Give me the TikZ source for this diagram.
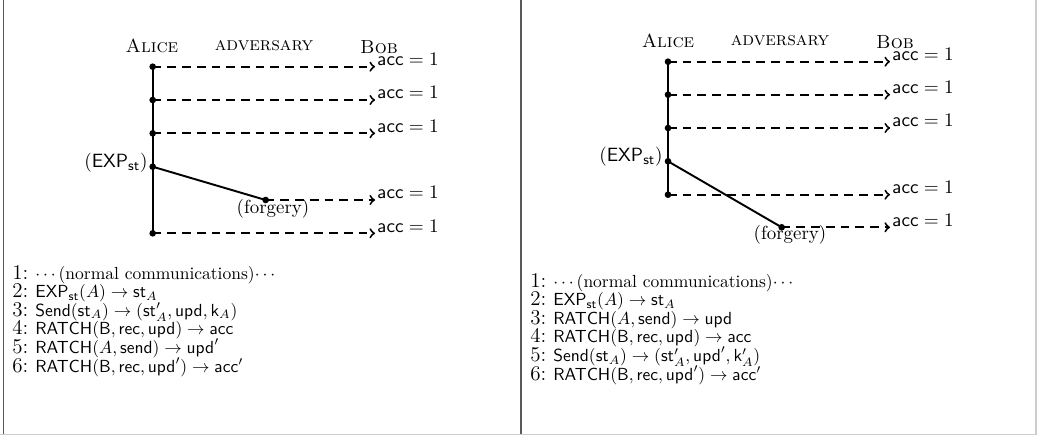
\documentclass[tikz,border=0pt]{standalone}
\usepackage{amsmath}
\begin{document}
\begin{tikzpicture}[x=0.5714pt,y=-0.5714pt,
  dot/.style={circle,fill,inner sep=0pt,minimum size=3.8pt},
  life/.style={line width=1.1pt},
  msg/.style={line width=1.1pt,dash pattern=on 5pt off 3.4pt,->},
  lab/.style={inner sep=0pt,font=\fontsize{10.8}{13}\selectfont},
  acc/.style={lab,anchor=base west},
  hdr/.style={lab,anchor=base},
  num/.style={anchor=base west,inner sep=0pt,font=\fontsize{12}{13}\selectfont},
  alg/.style={anchor=base west,inner sep=0pt},
  rule/.style={line width=1pt}]
\useasboundingbox (0,0) rectangle (1037,437);
% frame
\draw[rule,black!65] (3.5,0) -- (3.5,434);
\draw[rule,black!65] (521,0) -- (521,434);
\draw[rule,black!20] (1036,0) -- (1036,434);
\draw[rule,black!20] (0,434.5) -- (1037,434.5);

% ---------- left panel ----------
\node[hdr] (alice1) at (152,52.5) {\textsc{Alice}};
\node[hdr] (adv1) at (264,50) {\textsc{adversary}};
\node[hdr] (bob1) at (379,53) {\textsc{Bob}};
\node[dot] (a1) at (152.7,66.7) {};
\node[dot] (a2) at (152.7,100) {};
\node[dot] (a3) at (152.7,133.3) {};
\node[dot] (a4) at (152.7,166.7) {};
\node[dot] (f1) at (265.7,200) {};
\node[dot] (a6) at (152.7,233.3) {};
\coordinate (b1) at (375,66.7);
\coordinate (b2) at (375,100);
\coordinate (b3) at (375,133.3);
\coordinate (b5) at (375,200);
\coordinate (b6) at (375,233.3);
\draw[life] (a1.center) -- (a6.center);
\draw[life] (a4.center) -- (f1.center);
\draw[msg] (a1.center) -- (b1);
\draw[msg] (a2.center) -- (b2);
\draw[msg] (a3.center) -- (b3);
\draw[msg] (f1.center) -- (b5);
\draw[msg] (a6.center) -- (b6);
\node[acc] (c1) at (377,65.5) {$\mathsf{acc}=1$};
\node[acc] (c2) at (377,98.8) {$\mathsf{acc}=1$};
\node[acc] (c3) at (377,132.1) {$\mathsf{acc}=1$};
\node[acc] (c5) at (377,198.8) {$\mathsf{acc}=1$};
\node[acc] (c6) at (377,232.1) {$\mathsf{acc}=1$};
\node[lab,anchor=east] (exp1) at (148,163) {$(\mathsf{EXP}_{\mathsf{st}})$};
\node[lab,anchor=north] (forg1) at (273,199) {(forgery)};

\node[num] (n11) at (12,279) {1:};
\node[num] (n12) at (12,297.6) {2:};
\node[num] (n13) at (12,316.2) {3:};
\node[num] (n14) at (12,334.8) {4:};
\node[num] (n15) at (12,353.4) {5:};
\node[num] (n16) at (12,372) {6:};
\node[alg] (t11) at (35,279) {$\cdots$(normal communications)$\cdots$};
\node[alg] (t12) at (35,297.6) {$\mathsf{EXP}_{\mathsf{st}}(A) \rightarrow \mathsf{st}_A$};
\node[alg] (t13) at (35,316.2) {$\mathsf{Send}(\mathsf{st}_A) \rightarrow (\mathsf{st}'_A, \mathsf{upd}, \mathsf{k}_A)$};
\node[alg] (t14) at (35,334.8) {$\mathsf{RATCH}(\mathsf{B}, \mathsf{rec}, \mathsf{upd}) \rightarrow \mathsf{acc}$};
\node[alg] (t15) at (35,353.4) {$\mathsf{RATCH}(A, \mathsf{send}) \rightarrow \mathsf{upd}'$};
\node[alg] (t16) at (35,372) {$\mathsf{RATCH}(\mathsf{B}, \mathsf{rec}, \mathsf{upd}') \rightarrow \mathsf{acc}'$};

% ---------- right panel ----------
\node[hdr] (alice2) at (668,47.5) {\textsc{Alice}};
\node[hdr] (adv2) at (780,45) {\textsc{adversary}};
\node[hdr] (bob2) at (895,48) {\textsc{Bob}};
\node[dot] (d1) at (668,61.7) {};
\node[dot] (d2) at (668,94.7) {};
\node[dot] (d3) at (668,128) {};
\node[dot] (d4) at (668,161.3) {};
\node[dot] (d5) at (668,194.7) {};
\node[dot] (f2) at (781.7,227.3) {};
\coordinate (e1) at (890,61.7);
\coordinate (e2) at (890,94.7);
\coordinate (e3) at (890,128);
\coordinate (e5) at (890,194.7);
\coordinate (e6) at (890,227.3);
\draw[life] (d1.center) -- (d5.center);
\draw[life] (d4.center) -- (f2.center);
\draw[msg] (d1.center) -- (e1);
\draw[msg] (d2.center) -- (e2);
\draw[msg] (d3.center) -- (e3);
\draw[msg] (d5.center) -- (e5);
\draw[msg] (f2.center) -- (e6);
\node[acc] (g1) at (892,60.5) {$\mathsf{acc}=1$};
\node[acc] (g2) at (892,93.5) {$\mathsf{acc}=1$};
\node[acc] (g3) at (892,126.8) {$\mathsf{acc}=1$};
\node[acc] (g5) at (892,193.5) {$\mathsf{acc}=1$};
\node[acc] (g6) at (892,226.1) {$\mathsf{acc}=1$};
\node[lab,anchor=east] (exp2) at (663,157) {$(\mathsf{EXP}_{\mathsf{st}})$};
\node[lab,anchor=north] (forg2) at (790,225) {(forgery)};

\node[num] (n21) at (530,287) {1:};
\node[num] (n22) at (530,305.6) {2:};
\node[num] (n23) at (530,324.2) {3:};
\node[num] (n24) at (530,342.8) {4:};
\node[num] (n25) at (530,361.4) {5:};
\node[num] (n26) at (530,380) {6:};
\node[alg] (t21) at (553,287) {$\cdots$(normal communications)$\cdots$};
\node[alg] (t22) at (553,305.6) {$\mathsf{EXP}_{\mathsf{st}}(A) \rightarrow \mathsf{st}_A$};
\node[alg] (t23) at (553,324.2) {$\mathsf{RATCH}(A, \mathsf{send}) \rightarrow \mathsf{upd}$};
\node[alg] (t24) at (553,342.8) {$\mathsf{RATCH}(\mathsf{B}, \mathsf{rec}, \mathsf{upd}) \rightarrow \mathsf{acc}$};
\node[alg] (t25) at (553,361.4) {$\mathsf{Send}(\mathsf{st}_A) \rightarrow (\mathsf{st}'_A, \mathsf{upd}', \mathsf{k}'_A)$};
\node[alg] (t26) at (553,380) {$\mathsf{RATCH}(\mathsf{B}, \mathsf{rec}, \mathsf{upd}') \rightarrow \mathsf{acc}'$};
\end{tikzpicture}
\end{document}
